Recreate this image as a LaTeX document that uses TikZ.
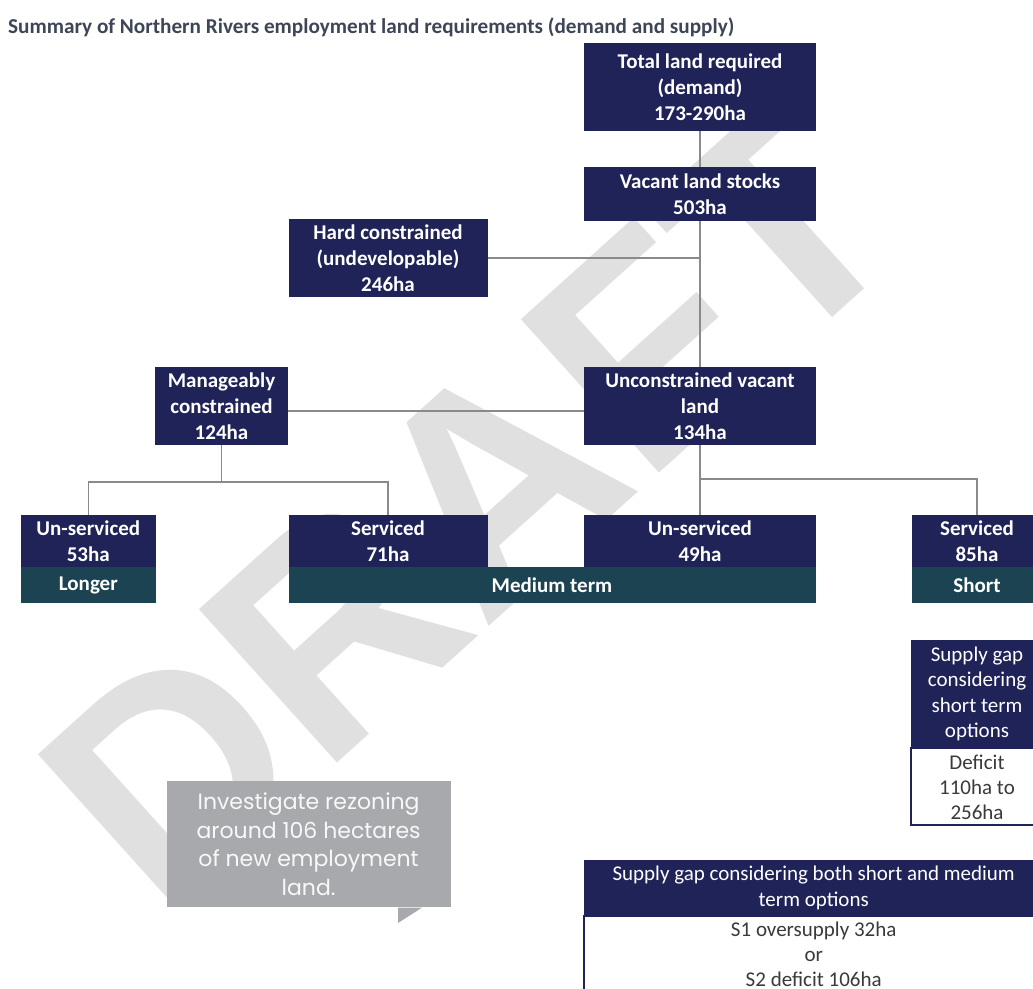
\documentclass[tikz,border=0pt]{standalone}
\usepackage{fontspec}
\setmainfont{Carlito}
\newfontfamily\notefont{Poppins}
\newfontfamily\stampfont{Liberation Sans}
\usetikzlibrary{positioning}

\definecolor{navy}{HTML}{1F2358}
\definecolor{termteal}{HTML}{1B4352}
\definecolor{linkgray}{HTML}{8A8A8A}
\definecolor{notegray}{HTML}{A7A9AC}
\definecolor{stampgray}{HTML}{E0E0E0}
\definecolor{titleslate}{HTML}{3E4556}
\definecolor{gaptext}{HTML}{3A3A3A}

\begin{document}
\begin{tikzpicture}[x=1pt,y=-1pt,
  box/.style={fill=navy,text=white,align=center,inner sep=0pt,
    font=\bfseries\fontsize{21}{26}\selectfont},
  termbar/.style={fill=termteal,text=white,inner sep=0pt,minimum height=36,
    font=\bfseries\fontsize{21}{26}\selectfont},
  gaphead/.style={fill=navy,text=white,align=center,inner sep=0pt,
    font=\fontsize{21}{25.5}\selectfont},
  gapbody/.style={fill=white,draw=navy,line width=2pt,text=gaptext,align=center,
    inner sep=0pt,font=\fontsize{21}{25}\selectfont},
  link/.style={draw=linkgray,line width=1.6pt}]
\useasboundingbox (0,0) rectangle (1033,988);

% watermark
\node[rotate=42,text=stampgray,font=\stampfont\bfseries\fontsize{300}{300}\selectfont] (draft) at (470,505) {DRAFT};

\node[anchor=west,inner sep=0pt,text=titleslate,font=\bfseries\fontsize{21.2}{24}\selectfont] (title) at (8,27)
  {Summary of Northern Rivers employment land requirements (demand and supply)};

% demand and stocks
\node[box,minimum width=232,minimum height=88] (total) at (700,87) {Total land required\\(demand)\\173-290ha};
\node[box,minimum width=232,minimum height=54] (vacant) at (700,194) {Vacant land stocks\\503ha};
\node[box,minimum width=199,minimum height=78] (hard) at (388,258) {Hard constrained\\(undevelopable)\\246ha};
\node[box,minimum width=133,minimum height=78] (manage) at (221.5,406) {Manageably\\constrained\\124ha};
\node[box,minimum width=232,minimum height=78] (uncon) at (700,406) {Unconstrained vacant\\land\\134ha};

% serviced / un-serviced
\node[box,minimum width=135,minimum height=52] (us53) at (88.3,541) {Un-serviced\\53ha};
\node[box,minimum width=199,minimum height=52] (sv71) at (388,541) {Serviced\\71ha};
\node[box,minimum width=232,minimum height=52] (us49) at (700,541) {Un-serviced\\49ha};
\node[box,minimum width=130,minimum height=52] (sv85) at (977,541) {Serviced\\85ha};
\node[termbar,minimum width=135,below=0pt of us53] (longer) {Longer};
\node[termbar,minimum width=527,anchor=north] (medium) at (552,567) {Medium term};
\node[termbar,minimum width=130,below=0pt of sv85] (short) {Short};

% supply gaps
\node[gaphead,minimum width=132,minimum height=107,anchor=north] (shorthead) at (977,640)
  {Supply gap\\considering\\short term\\options};
\node[gapbody,minimum width=132,minimum height=77,below=0pt of shorthead] (shortgap) {Deficit\\110ha to\\256ha};
\node[gaphead,minimum width=460,minimum height=55,anchor=north] (bothhead) at (813.7,860)
  {Supply gap considering both short and medium\\term options};
\node[gapbody,minimum width=460,minimum height=76,below=0pt of bothhead] (bothgap)
  {S1 oversupply 32ha\\or\\S2 deficit 106ha};

% callout
\node[fill=notegray,text=white!92!notegray,minimum width=284,minimum height=126.5,inner sep=0pt,
  align=center,font=\notefont\fontsize{22}{28.5}\selectfont] (note) at (308.6,844.2)
  {Investigate rezoning\\around 106 hectares\\of new employment\\land.};
\fill[notegray] (note.south -| 398,0) -- (398,923) -- (note.south -| 422,0) -- cycle;

% connectors
\draw[link] (total) -- (vacant);
\draw[link] (vacant) -- (uncon);
\draw[link] (hard.east) -- (hard.east -| vacant.south);
\draw[link] ([yshift=-5pt]manage.east) -- ([yshift=-5pt]uncon.west);
\draw[link] (manage.south) -- ++(0,37) coordinate (mjoin);
\draw[link] (us53.north) |- (mjoin) -| (sv71.north);
\draw[link] (uncon) -- (us49);
\draw[link] (uncon.south) ++(0,34) coordinate (ujoin) -| (sv85.north);
\end{tikzpicture}
\end{document}
